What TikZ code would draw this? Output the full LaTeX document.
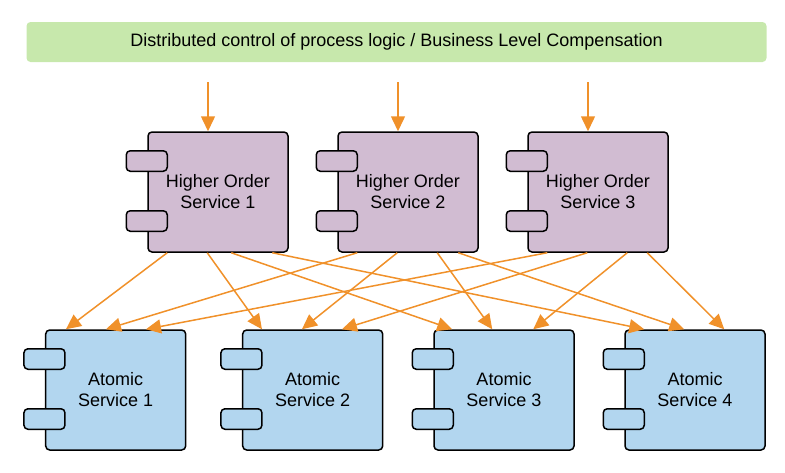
\documentclass[tikz,border=0pt]{standalone}
\usepackage{fontspec}
\setmainfont{Liberation Sans}
\usetikzlibrary{arrows.meta}

\definecolor{barGreen}{RGB}{199,232,172}
\definecolor{hoPurple}{RGB}{209,188,210}
\definecolor{atBlue}{RGB}{178,214,239}
\definecolor{flowOrange}{RGB}{240,145,42}

\tikzset{
    comp/.style={draw, line width=1.5pt, rounded corners=4pt, minimum width=140pt,
        minimum height=120pt, align=center, font=\fontsize{18}{21}\selectfont},
    tab/.style={draw, line width=1.5pt, rounded corners=4pt},
    flow/.style={draw=flowOrange, line width=1.5pt, -{Triangle[length=15pt,width=14pt]}}
}

% two little tabs on the left side of a component box
\newcommand{\comptabs}[2]{%
    \draw[tab, fill=#2] ([xshift=-21pt,yshift=-19.5pt]#1.north west) rectangle ([xshift=20pt,yshift=-40pt]#1.north west);
    \draw[tab, fill=#2] ([xshift=-21pt,yshift=-79.5pt]#1.north west) rectangle ([xshift=20pt,yshift=-100pt]#1.north west);
}

\begin{document}
\begin{tikzpicture}[x=1pt,y=-1pt]
        \useasboundingbox (0,0) rectangle (785,472);

        \node[fill=barGreen, rounded corners=4pt, minimum width=740pt, minimum height=40pt,
            font=\fontsize{18}{21}\selectfont] (bar) at (396.5,42)
            {Distributed control of process logic / Business Level Compensation};

        \node[comp, fill=hoPurple] (h1) at (218,192) {Higher Order\\Service 1};
        \node[comp, fill=hoPurple] (h2) at (408,192) {Higher Order\\Service 2};
        \node[comp, fill=hoPurple] (h3) at (598,192) {Higher Order\\Service 3};
        \comptabs{h1}{hoPurple}
        \comptabs{h2}{hoPurple}
        \comptabs{h3}{hoPurple}

        \node[comp, fill=atBlue] (a1) at (115.7,390) {Atomic\\Service 1};
        \node[comp, fill=atBlue] (a2) at (312.7,390) {Atomic\\Service 2};
        \node[comp, fill=atBlue] (a3) at (504,390) {Atomic\\Service 3};
        \node[comp, fill=atBlue] (a4) at (695,390) {Atomic\\Service 4};
        \comptabs{a1}{atBlue}
        \comptabs{a2}{atBlue}
        \comptabs{a3}{atBlue}
        \comptabs{a4}{atBlue}

        % incoming control
        \coordinate (in1) at (208,82);
        \coordinate (in2) at (398,82);
        \coordinate (in3) at (588,82);
        \draw[flow] (in1) -- (in1 |- h1.north);
        \draw[flow] (in2) -- (in2 |- h2.north);
        \draw[flow] (in3) -- (in3 |- h3.north);

        % higher order -> atomic
        \draw[flow] ([xshift=20pt]h1.south west) -- ([xshift=21pt]a1.north west);
        \draw[flow] ([xshift=60pt]h1.south west) -- ([xshift=20pt]a2.north west);
        \draw[flow] ([xshift=84pt]h1.south west) -- ([xshift=19pt]a3.north west);
        \draw[flow] ([xshift=125pt]h1.south west) -- ([xshift=20pt]a4.north west);

        \draw[flow] ([xshift=20pt]h2.south west) -- ([xshift=61pt]a1.north west);
        \draw[flow] ([xshift=60pt]h2.south west) -- ([xshift=60pt]a2.north west);
        \draw[flow] ([xshift=100pt]h2.south west) -- ([xshift=59pt]a3.north west);
        \draw[flow] ([xshift=121pt]h2.south west) -- ([xshift=60pt]a4.north west);

        \draw[flow] ([xshift=20pt]h3.south west) -- ([xshift=101pt]a1.north west);
        \draw[flow] ([xshift=60pt]h3.south west) -- ([xshift=100pt]a2.north west);
        \draw[flow] ([xshift=100pt]h3.south west) -- ([xshift=100pt]a3.north west);
        \draw[flow] ([xshift=120pt]h3.south west) -- ([xshift=100pt]a4.north west);
    \end{tikzpicture}
\end{document}
